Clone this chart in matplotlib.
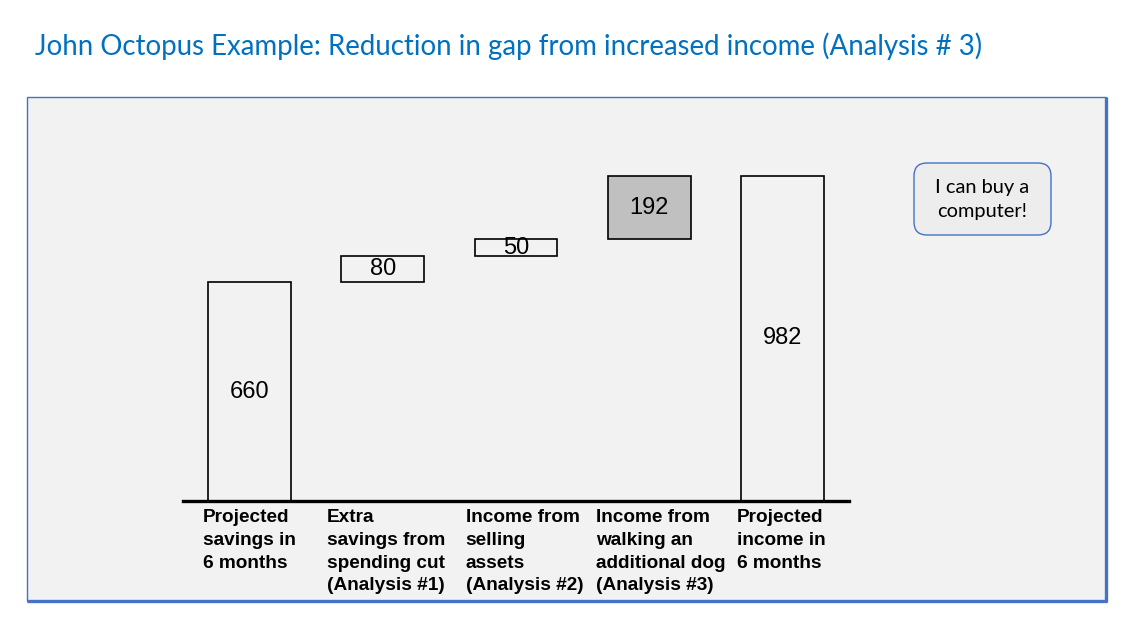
import matplotlib
matplotlib.use("Agg")
import matplotlib.pyplot as plt
from matplotlib.patches import Rectangle, FancyBboxPatch
from matplotlib.transforms import offset_copy
import numpy as np

# ---- data ----
categories = [
    "Projected\nsavings in\n6 months",
    "Extra\nsavings from\nspending cut\n(Analysis #1)",
    "Income from\nselling\nassets\n(Analysis #2)",
    "Income from\nwalking an\nadditional dog\n(Analysis #3)",
    "Projected\nincome in\n6 months",
]
values = [660, 80, 50, 192, 982]
is_total = [True, False, False, False, True]
bar_colors = ["none", "none", "none", "#C0C0C0", "none"]
title = "John Octopus Example: Reduction in gap from increased income (Analysis # 3)"
callout = "I can buy a\ncomputer!"

# waterfall bottoms
bottoms = []
running = 0
for v, t in zip(values, is_total):
    if t:
        bottoms.append(0)
        running = v
    else:
        bottoms.append(running)
        running += v

W, H = 1133, 628
fig = plt.figure(figsize=(W / 100, H / 100), dpi=100)
fig.patch.set_facecolor("white")

# background axes in pixel coords
bg = fig.add_axes([0, 0, 1, 1], zorder=0)
bg.set_xlim(0, W)
bg.set_ylim(H, 0)
bg.axis("off")

blue = "#4472C4"
# panel shadow
bg.add_patch(Rectangle((29, 99), 1078, 504, facecolor="#A9BCE3", edgecolor="none"))
bg.add_patch(Rectangle((27, 96.7), 1078.5, 504, facecolor="#F2F2F2",
                       edgecolor=blue, linewidth=1.0))
bg.plot([1105.5, 1105.5], [97, 601.5], color=blue, lw=2.4, solid_capstyle="butt")
bg.plot([27, 1106.5], [600.7, 600.7], color=blue, lw=2.4, solid_capstyle="butt")

# callout
bg.add_patch(FancyBboxPatch((914, 163), 137, 72,
                            boxstyle="round,pad=0,rounding_size=13",
                            facecolor="#EDEDED", edgecolor=blue, linewidth=1.0))
bg.text(982, 199, callout, ha="center", va="center", fontsize=14.4,
        family="Lato", color="black", linespacing=1.5)

# title
t = bg.text(35, 55, title, ha="left", va="baseline", fontsize=19,
            family="Lato", color="#0070C0")
fig.canvas.draw()
bb = t.get_window_extent()
t.set_fontsize(19 * 948 / bb.width)

# chart axes
left_px, right_px = 183, 849
base_px, top_px = 501, 160
ax = fig.add_axes([left_px / W, 1 - base_px / H, (right_px - left_px) / W,
                   (base_px - top_px) / H], zorder=2)
ax.patch.set_alpha(0)
x = np.arange(len(values))
ax.bar(x, values, bottom=bottoms, width=0.623, color=bar_colors,
       edgecolor="black", linewidth=1.2, zorder=3)
ax.set_xlim(-0.5, len(values) - 0.5)
ax.set_ylim(0, 1030)
for s in ax.spines.values():
    s.set_visible(False)
ax.set_xticks([])
ax.set_yticks([])
ax.axhline(0, color="black", lw=2.4, clip_on=False, zorder=4)

for xi, b, v in zip(x, bottoms, values):
    ax.text(xi, b + v / 2, f"{v}", ha="center", va="center", fontsize=17,
            family="Liberation Sans", color="black", zorder=5)

label_dx = [-0.5, 3, 8.5, 11.5, -1.5]
for xi, lab, dx in zip(x, categories, label_dx):
    tr = offset_copy(ax.get_xaxis_transform(), fig=fig, x=dx * 0.72, y=-8.5 * 0.72,
                     units="points")
    ax.text(xi, 0, lab, transform=tr, ha="center", va="top",
            multialignment="left", fontsize=13.7, fontweight="bold",
            family="Liberation Sans", linespacing=1.43, color="black")

fig.savefig("out.png", dpi=100, facecolor="white")
